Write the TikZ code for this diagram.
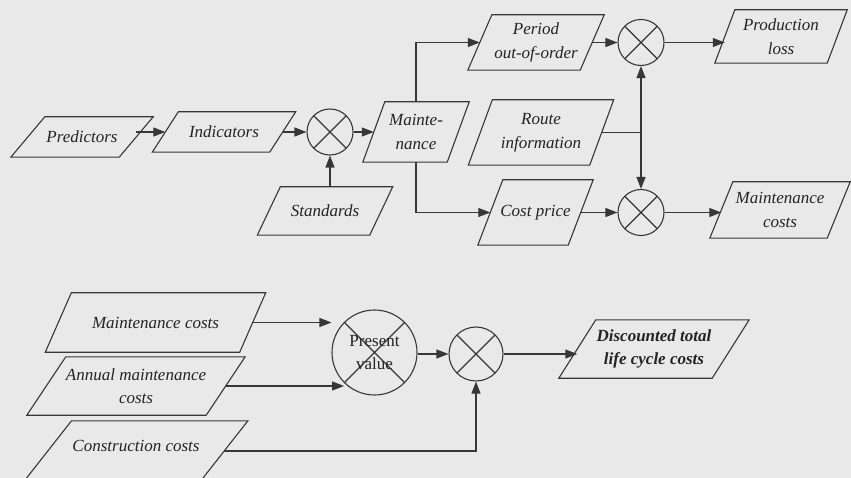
\documentclass[tikz,border=0pt]{standalone}
\usepackage{fontspec}
\setmainfont{Liberation Serif}
\usetikzlibrary{arrows.meta}
\definecolor{bgc}{RGB}{233,233,233}
\definecolor{ink}{RGB}{55,55,55}
\definecolor{txt}{RGB}{35,35,35}
\begin{document}
\begin{tikzpicture}[x=1pt,y=-1pt,
  lbl/.style={inner sep=0pt, align=center, text=txt,
    font=\fontsize{17}{23.5}\selectfont\itshape},
  mult/.style={circle, draw=ink, line width=1.1pt, inner sep=0pt, minimum size=#1,
    path picture={\draw[ink, line width=1.1pt]
      (path picture bounding box.north west) -- (path picture bounding box.south east)
      (path picture bounding box.north east) -- (path picture bounding box.south west);}},
  pvstyle/.style={mult=85pt, align=center, text=txt, font=\fontsize{17}{23}\selectfont},
  arr/.style={draw=ink, line width=1.1pt, -{Triangle[length=12pt,width=9pt]}},
  conn/.style={draw=ink, line width=1.1pt},
  frame/.style={draw=ink, line width=1.1pt, line join=miter}
]
\useasboundingbox (0,0) rectangle (851,478);
\clip (0,0) rectangle (851,478);
\fill[bgc] (0,0) rectangle (851,478);

% boxes (text nodes)
\node[lbl, minimum width=108pt, minimum height=40pt] (pred) at (82,137) {Predictors};
\node[lbl, minimum width=117pt, minimum height=40pt] (ind) at (224,132) {Indicators};
\node[mult=46pt] (c1) at (330,132) {};
\node[lbl, minimum width=112pt, minimum height=48pt] (std) at (325,211) {Standards};
\node[lbl, minimum width=84pt, minimum height=60pt] (maint) at (416,132) {Mainte-\\nance};
\node[lbl, minimum width=112pt, minimum height=55pt] (per) at (536,42.5) {Period\\out-of-order};
\node[mult=46pt] (c2) at (641,42.5) {};
\node[lbl, minimum width=112pt, minimum height=53pt] (prod) at (781,36.5) {Production\\loss};
\node[lbl, minimum width=121pt, minimum height=65pt] (route) at (541,132.5) {Route\\information};
\node[lbl, minimum width=90pt, minimum height=65pt] (cost) at (535.5,212.5) {Cost price};
\node[mult=46pt] (c3) at (641,212.5) {};
\node[lbl, minimum width=117pt, minimum height=56pt] (mc1) at (780,210) {Maintenance\\costs};
\node[lbl, minimum width=194pt, minimum height=59pt] (mc2) at (155.5,322.5) {Maintenance costs};
\node[lbl, minimum width=179pt, minimum height=58pt] (ann) at (136,386) {Annual maintenance\\costs};
\node[lbl, minimum width=176pt, minimum height=60pt, text depth=10pt] (con) at (136,451) {Construction costs};
\node[pvstyle] (pv) at (374.5,352.5) {Present\\value};
\node[mult=54pt] (c4) at (476,354) {};
\node[lbl, font=\fontsize{17}{23.5}\selectfont\bfseries\itshape, minimum width=153pt, minimum height=58pt] (disc) at (654,349) {Discounted total\\life cycle costs};

% parallelogram outlines
\foreach \n/\s in {pred/17, ind/13, std/11.5, maint/11, per/12, prod/10, route/12,
                   cost/12.5, mc1/11.5, mc2/13, ann/19.5, con/23.7, disc/18.5}
  \draw[frame] ([xshift=\s pt]\n.north west) -- ([xshift=\s pt]\n.north east)
    -- ([xshift=-\s pt]\n.south east) -- ([xshift=-\s pt]\n.south west) -- cycle;

% connectors
\draw[arr] (ind.west -| pred.east) -- (ind.west);
\draw[arr] (ind.east) -- (c1.west);
\draw[arr] (c1.south |- std.north) -- (c1.south);
\draw[arr] (c1.east) -- (maint.west);
\draw[arr] (maint.north) |- (per.west);
\draw[arr] (maint.south) |- (cost.west);
\draw[arr] (per.east) -- (c2.west);
\draw[arr] (c2.east) -- (c2.east -| prod.west);
\coordinate (j) at (c2 |- route.east);
\draw[conn] (route.east) -- (j);
\draw[arr] (j) -- (c2.south);
\draw[arr] (j) -- (c3.north);
\draw[arr] (cost.east) -- (c3.west);
\draw[arr] (c3.east) -- (c3.east -| mc1.west);
\draw[arr] (mc2.east) -- (mc2.east -| pv.west);
\draw[arr] (ann.east) -- (ann.east -| pv.south west);
\draw[arr] (con.east) -| (c4.south);
\draw[arr] (c4.west -| pv.east) -- (c4.west);
\draw[arr] (c4.east) -- (c4.east -| disc.west);
\end{tikzpicture}
\end{document}
